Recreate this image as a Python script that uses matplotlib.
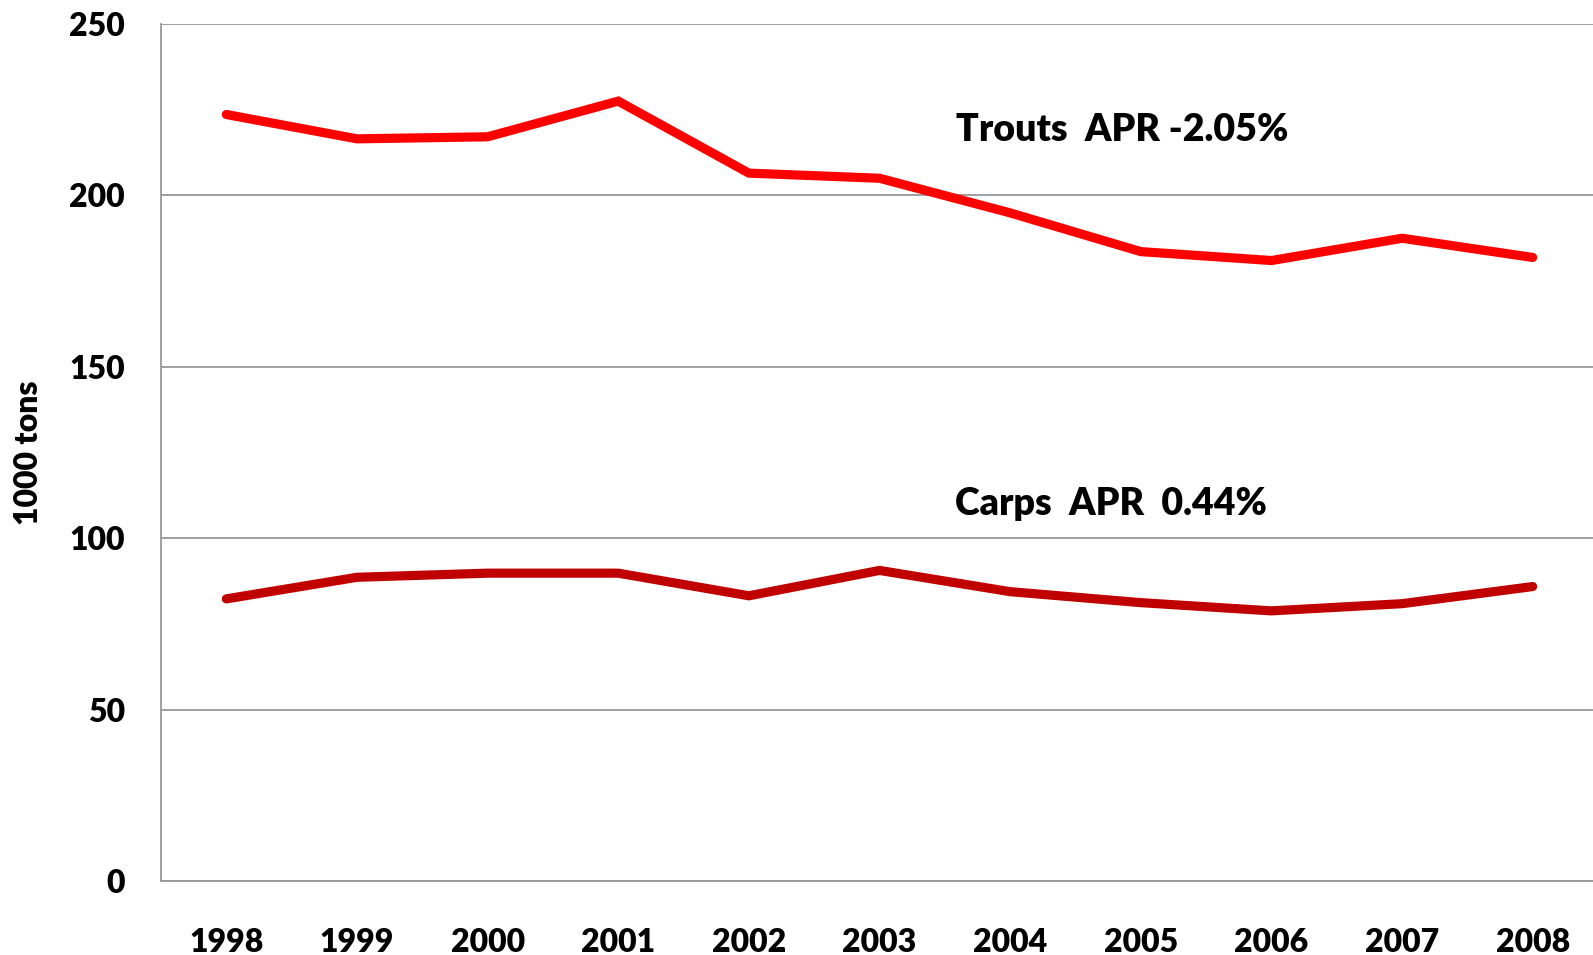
import matplotlib
matplotlib.use('Agg')
import matplotlib.pyplot as plt

# data (1000 tons)
years = ['1998', '1999', '2000', '2001', '2002', '2003', '2004', '2005', '2006', '2007', '2008']
trouts = [223.6, 216.5, 217.1, 227.5, 206.5, 205.0, 194.9, 183.6, 181.0, 187.5, 181.9]
carps = [82.3, 88.6, 89.8, 89.8, 83.2, 90.6, 84.4, 81.2, 78.8, 80.9, 85.9]
yticks = [0, 50, 100, 150, 200, 250]

plt.rcParams['font.family'] = ['Lato', 'DejaVu Sans']
W = 'heavy'

fig = plt.figure(figsize=(15.93, 9.55), dpi=100)
# axes runs slightly past the right edge, like the original
ax = fig.add_axes([161 / 1593, 1 - 881 / 955, (1598 - 161) / 1593, (881 - 24) / 955])

x = list(range(len(years)))
ax.plot(x, trouts, color='#FF0000', linewidth=6.6, solid_capstyle='round', solid_joinstyle='miter', zorder=3)
ax.plot(x, carps, color='#C00000', linewidth=6.6, solid_capstyle='round', solid_joinstyle='miter', zorder=3)

ax.set_xlim(-0.5, len(years) - 0.5)
ax.set_ylim(0, 250)
ax.set_yticks(yticks)
ax.set_yticklabels([str(t) for t in yticks], fontsize=23, fontweight=W)
ax.set_xticks(x)
ax.set_xticklabels(years, fontsize=23, fontweight=W)
ax.tick_params(axis='both', length=0)
ax.tick_params(axis='x', pad=34)
ax.tick_params(axis='y', pad=26)

ax.grid(axis='y', color='#999999', linewidth=1.3)
ax.set_axisbelow(True)
for s in ['top', 'right']:
    ax.spines[s].set_visible(False)
for s in ['left', 'bottom']:
    ax.spines[s].set_color('#999999')
    ax.spines[s].set_linewidth(1.3)

ax.set_ylabel('1000 tons', fontsize=23, fontweight=W, va='center')
ax.yaxis.set_label_coords(-0.092, 0.5)

ax.text(6.86, 219, 'Trouts  APR -2.05%', fontsize=27, fontweight=W, ha='center', va='center')
ax.text(6.77, 110, 'Carps  APR  0.44%', fontsize=27, fontweight=W, ha='center', va='center')

fig.savefig('out.png', dpi=100)
